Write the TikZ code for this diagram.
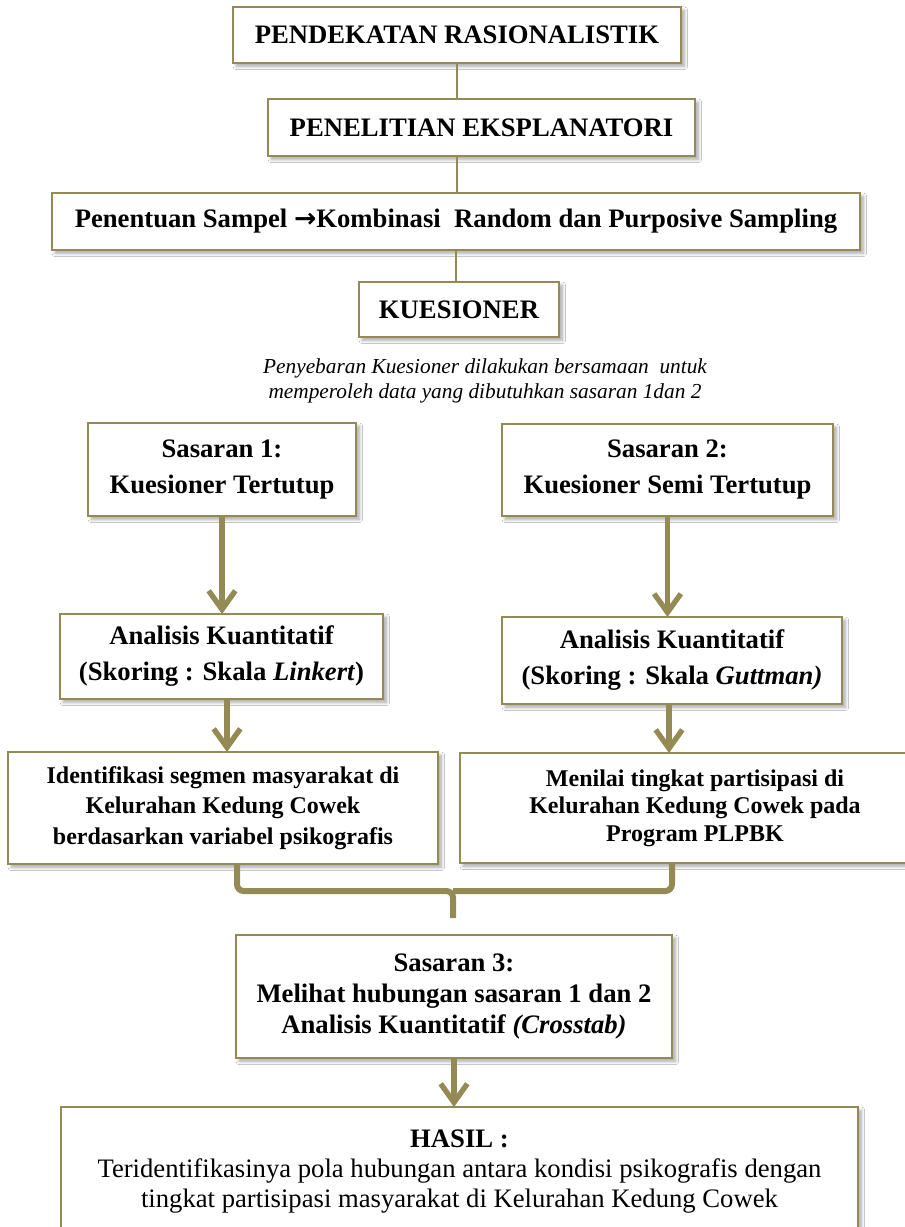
\documentclass[tikz,border=0pt]{standalone}
\usepackage{fontspec}
\setmainfont{Liberation Serif}
\newfontfamily\arrowfont{DejaVu Sans}
\usetikzlibrary{arrows.meta,shadows.blur}
\definecolor{olivebr}{HTML}{948A54}
\tikzset{
  box/.style={draw=olivebr, line width=1.6pt, fill=white, align=center,
    inner sep=0pt, outer sep=0pt,
    blur shadow={shadow xshift=2.5pt, shadow yshift=-2.5pt, shadow blur steps=6,
      shadow blur radius=2.5pt, shadow opacity=35}},
  thinline/.style={draw=olivebr, line width=1.2pt},
  flow/.style={draw=olivebr, line width=4pt,
    -{Straight Barb[length=14pt,width=20pt]}},
  bracket/.style={draw=olivebr, line width=4.5pt, rounded corners=5pt},
  fa/.style={font=\fontsize{20}{27}\selectfont\bfseries},
  fb/.style={font=\fontsize{20}{23}\selectfont\bfseries},
  fc/.style={font=\fontsize{18}{23}\selectfont\bfseries},
  fd/.style={font=\fontsize{18}{20.6}\selectfont\bfseries},
  fe/.style={font=\fontsize{20}{22.5}\selectfont},
  note/.style={font=\fontsize{16}{18.5}\selectfont\itshape, align=center, inner sep=0pt},
}
\newcommand\mkbox[7]{\node[box,#6,minimum width={(#4-#2)*0.75pt},minimum height={(#5-#3)*0.75pt}] (#1) at ({(#2+#4)/2},{(#3+#5)/2}) {#7};}
\begin{document}
\begin{tikzpicture}[x=0.75pt,y=-0.75pt]
\clip (0,0) rectangle (905,1227);
\fill[white] (0,0) rectangle (905,1227);

\mkbox{b1}{233}{7}{681}{63}{fa}{PENDEKATAN RASIONALISTIK}
\mkbox{b2}{268}{99}{695}{156}{fa}{PENELITIAN EKSPLANATORI}
\mkbox{b3}{52}{193}{860}{250}{fa}{Penentuan Sampel {\arrowfont\bfseries →}Kombinasi~ Random dan Purposive Sampling}
\mkbox{b4}{359}{282}{559}{337}{fa}{KUESIONER}

\node[note] (nt) at (485,381) {Penyebaran Kuesioner dilakukan bersamaan~ untuk\\memperoleh data yang dibutuhkan sasaran 1dan 2};

\mkbox{s1}{88}{423}{356}{516}{fa}{Sasaran 1:\\Kuesioner Tertutup}
\mkbox{s2}{502}{424}{833}{516}{fa}{Sasaran 2:\\Kuesioner Semi Tertutup}
\mkbox{a1}{60}{614}{383}{699}{fa}{Analisis Kuantitatif\\(Skoring : Skala \textit{Linkert})}
\mkbox{a2}{502}{617}{842}{704}{fa}{Analisis Kuantitatif\\(Skoring : Skala \textit{Guttman)}}
\mkbox{i1}{8}{752}{438}{864}{fc}{Identifikasi segmen masyarakat di\\Kelurahan Kedung Cowek\\berdasarkan variabel psikografis}
\mkbox{m1}{460}{753}{930}{863}{fd}{Menilai tingkat partisipasi di\\Kelurahan Kedung Cowek pada\\Program PLPBK}
\mkbox{s3}{236}{935}{672}{1058}{fb}{Sasaran 3:\\Melihat hubungan sasaran 1 dan 2\\Analisis Kuantitatif \textit{(Crosstab)}}
\mkbox{h}{61}{1107}{858}{1237}{fe}{\textbf{HASIL :}\\Teridentifikasinya pola hubungan antara kondisi psikografis dengan\\tingkat partisipasi masyarakat di Kelurahan Kedung Cowek}

% thin connectors
\draw[thinline] (b1.south) -- (b1.south |- b2.north);
\draw[thinline] (b1.south |- b2.south) -- (b1.south |- b3.north);
\draw[thinline] (b3.south) -- (b3.south |- b4.north);

% arrows
\draw[flow] (s1.south) -- (s1.south |- a1.north);
\draw[flow] (s2.south) -- (s2.south |- a2.north);
\coordinate (a1x) at (227,0);
\coordinate (a2x) at (669,0);
\draw[flow] (a1x |- a1.south) -- (a1x |- i1.north);
\draw[flow] (a2x |- a2.south) -- (a2x |- m1.north);

% bracket
\coordinate (bl) at (237,0);
\coordinate (br) at (672,0);
\coordinate (bm) at (453,891);
\coordinate (bt) at (453,918);
\draw[bracket] (bl |- i1.south) |- (bm) -- (bt);
\draw[bracket] (br |- m1.south) |- (bm);

\draw[flow] (s3.south) -- (s3.south |- h.north);
\end{tikzpicture}
\end{document}
